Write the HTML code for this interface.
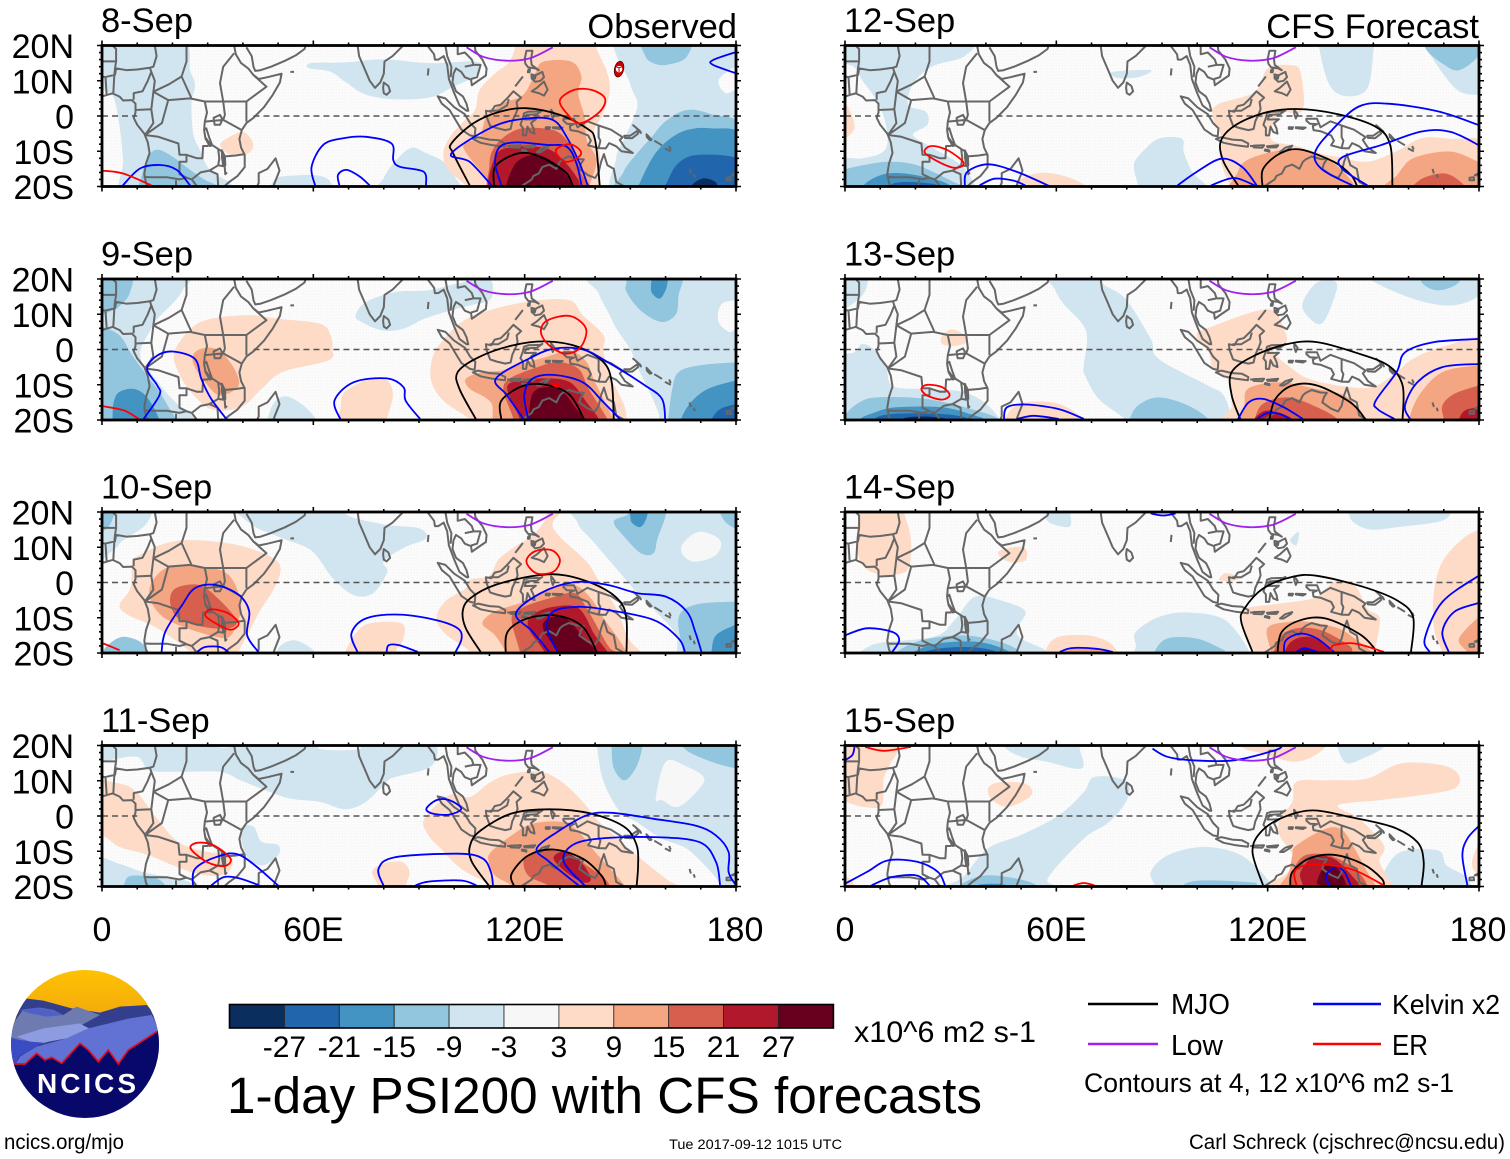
<!DOCTYPE html>
<html lang="en">
<head>
<meta charset="utf-8">
<title>1-day PSI200 with CFS forecasts</title>
<style>
html,body{margin:0;padding:0;background:#fff;width:1510px;height:1159px;overflow:hidden}
svg{display:block}
text{font-family:"Liberation Sans",sans-serif;fill:#000}
</style>
</head>
<body>
<svg id="chart" xmlns="http://www.w3.org/2000/svg" width="1510" height="1159" viewBox="0 0 1510 1159">
<defs>
<pattern id="stipple" width="3" height="3" patternUnits="userSpaceOnUse"><rect width="3" height="3" fill="#fafafa"/><rect x="1" y="1" width="1" height="1" fill="#ffffff"/><rect x="0" y="2" width="1" height="1" fill="#f6f6f6"/></pattern>
<linearGradient id="sky" x1="0" y1="0" x2="0" y2="1"><stop offset="0" stop-color="#ffc400"/><stop offset="1" stop-color="#efa012"/></linearGradient>
<clipPath id="logo-clip"><circle cx="255" cy="252" r="222"/></clipPath>
</defs>
<g id="panels"></g>
<g id="colorbar"></g>

<g>
<g transform="translate(0,960) scale(.33333)" clip-path="url(#logo-clip)">
<rect x="20" y="20" width="470" height="200" fill="url(#sky)"/>
<polygon points="75,115 130,122 215,145 300,158 360,140 440,135 480,180 480,330 30,330 30,200" fill="#333f8c"/>
<polygon points="70,148 120,143 160,150 190,165 230,140 300,165 245,195 270,205 130,250 30,240 40,190" fill="#6e7bb0"/>
<polygon points="60,150 110,143 160,152 190,165 140,170 90,160" fill="#4f60c8"/>
<polygon points="265,205 390,175 455,165 480,210 400,265 360,320 40,325 60,290 110,260 200,235" fill="#6271d4"/>
<polygon points="30,232 60,240 130,248 100,265 55,290 45,320 30,320" fill="#3a4cc4"/>
<polygon points="50,230 130,205 240,190 265,205 200,235 130,248 90,245" fill="#8d9be0"/>
<polygon points="40,312 75,312 110,280 135,300 155,292 185,310 240,250 265,270 295,305 325,270 355,312 385,270 470,215 490,205 490,490 20,490 20,312" fill="#08086a"/>
<polyline points="40,312 75,312 110,280 135,300 155,292 185,310 240,250 265,270 295,305 325,270 355,312 385,270 470,215" fill="none" stroke="#e01020" stroke-width="5"/>
</g>
<text x="37" y="1093" font-size="28" font-weight="bold" style="fill:#fff" textLength="99" lengthAdjust="spacing">NCICS</text>
</g>

<text x="854" y="1042" font-size="30" textLength="182" lengthAdjust="spacingAndGlyphs">x10^6 m2 s-1</text>
<text x="227" y="1113" font-size="51" textLength="755" lengthAdjust="spacingAndGlyphs">1-day PSI200 with CFS forecasts</text>

<g>
<line x1="1088" y1="1004" x2="1158" y2="1004" stroke="#000" stroke-width="2.4"/>
<text x="1171" y="1014" font-size="28.5" textLength="59" lengthAdjust="spacingAndGlyphs">MJO</text>
<line x1="1313" y1="1004" x2="1381" y2="1004" stroke="#0000ff" stroke-width="2.4"/>
<text x="1392" y="1014" font-size="28" textLength="108" lengthAdjust="spacingAndGlyphs">Kelvin x2</text>
<line x1="1088" y1="1044" x2="1158" y2="1044" stroke="#a020f0" stroke-width="2.4"/>
<text x="1171" y="1055" font-size="28.5" textLength="52" lengthAdjust="spacingAndGlyphs">Low</text>
<line x1="1313" y1="1044" x2="1381" y2="1044" stroke="#ff0000" stroke-width="2.4"/>
<text x="1392" y="1055" font-size="28.5" textLength="36" lengthAdjust="spacingAndGlyphs">ER</text>
<text x="1084" y="1092" font-size="26.5" textLength="370" lengthAdjust="spacingAndGlyphs">Contours at 4, 12 x10^6 m2 s-1</text>
</g>

<text x="4" y="1149" font-size="21" textLength="120" lengthAdjust="spacingAndGlyphs">ncics.org/mjo</text>
<text x="669" y="1149" font-size="14" textLength="173" lengthAdjust="spacingAndGlyphs">Tue 2017-09-12 1015 UTC</text>
<text x="1189" y="1149" font-size="21" textLength="316" lengthAdjust="spacingAndGlyphs">Carl Schreck (cjschrec@ncsu.edu)</text>
</svg>

<script>
// ---------- categories, labels ----------
const panelDates = ['8-Sep','9-Sep','10-Sep','11-Sep','12-Sep','13-Sep','14-Sep','15-Sep'];
const latTicks = [20,10,0,-10,-20];
const latLabels = ['20N','10N','0','10S','20S'];
const lonTicks = [0,60,120,180];
const lonLabels = ['0','60E','120E','180'];
const colorbarColors = ['#0a2f5f','#2166ac','#4393c3','#92c5de','#d1e5f0','#f7f7f7','#fddbc7','#f4a582','#d6604d','#b2182b','#67001f'];
const colorbarLabels = ['-27','-21','-15','-9','-3','3','9','15','21','27'];
const equatorSegments = [[0,10],[43,180]];
const cycloneTracks = [[146.8,13.3]];

// ---------- map (flat lon,lat lists) ----------
const mapOpen = [
[0,5.5,1.5,6,3,6.4,5,5.5,6,4.4,8.5,4.5,9.5,3.5,9.5,1,9,-.5,10,-2.5,12,-5,13,-7.5,13.5,-10.5,12.5,-13.5,12,-16.5,12.5,-19,14,-22],
[37.5,20,38,17.5,39.5,15,41.5,13.5,43,11.6,44.5,10.5,47,11,51,12,50.5,9.5,48.5,6,46,2.5,43,-.5,41,-2,39.7,-4,39,-6.5,39.5,-9,40.5,-11,40.5,-14.5,38.5,-17,36,-18.8,34.7,-20,35.5,-23],
[41,19.5,42.5,17,43,14,43.5,12.8,45,13,48,14,52,15.7,55,17.2,57.5,19,58,20.5],
[24,20,24,15.5,22.6,11.2,19,9,14.6,6.9],
[22.6,11.2,25.4,5],
[14.6,6.9,18.8,4.5,25,5,29.2,4.1,34.4,4.1,41,4.1],
[9.4,1.7,14,1.9,14.6,-2,12.2,-5.4],
[14.6,6.9,14,1.9],
[18.8,4.5,17,-2,12.2,-5.4],
[.8,11,3.7,11.7,4,13.5,7,13,10,13.2,13.6,13.7],
[3.2,6.4,3.5,11.5,3.7,13.5,4,15.5,0,15.5],
[4,15.5,4,19,3,20],
[1.3,6.2,1,11,0,11.2],
[13.6,13.7,14.6,14,15.5,17,15,20],
[9,4.6,9,6.5,11.5,7,13,10,14,12.5,13.6,13.7],
[14,12.5,15,10,14.6,6.9],
[37.5,17.8,34.4,14,33.5,9.3,34.4,4.1],
[41,4.1,46.7,8.3,43,11.6],
[41,4.1,41,-1.6],
[34.4,4.1,34.9,.3,34.4,-1.1,39.7,-4],
[29.2,4.1,29.8,1,29.2,-1.6,34.4,-1.1],
[29.2,-1.6,29,-4,29.3,-6,30.6,-7.8,30,-8.5,28.7,-8.5,28.5,-12,27,-12,24,-11,22,-11,21.7,-7.8,16,-5.9,12.2,-5.4],
[30.6,-7.8,34,-10,34.5,-11.5,38,-11.2,40.5,-10.8],
[34,-10,34.8,-14,35,-16.5,35.5,-16],
[33,-9.5,33.3,-12,33,-14,34.8,-14.3],
[24,-11,24,-13,22,-13,22,-16.5,24,-17.5,25.5,-18,28,-16,30.5,-15.5,33,-14],
[11.8,-17.3,14,-17.4,18.5,-17.4,22,-18,24,-17.5],
[30.5,-15.5,32.8,-16.5,33,-20,31.5,-23],
[25.5,-18,27,-20,29,-22],
[21,-18.2,21,-23],
[67,24,69,22,72.5,20.5,73,17,74.5,13.5,76,10,77.5,8,79,9.5,80,12,80.2,15.5,82.5,17,85,19.5,87,21.5,90,22,92,20.5,94.3,17.5,94.5,16,95.5,16,97,17,98,14.5,98.5,10.5,100,6.5,101.5,3,103.5,1.5,104,1.5,103.5,3.5,102.5,5.5,100.5,7,99.5,9.5,99.8,12,100.5,13.5,102,12.5,103,11,104.8,10.3,105,8.7,106.5,9.8,109,11.5,109.2,13.5,108,16,106,18.5,105.8,20,107,21.5],
[97.5,20,98,17,99.2,14,99,11],
[101,20,101,17.5,103,18,105,16,105.5,14.5,107.5,14.5,106.5,11,104.8,10.5],
[103,14,105.5,14.5],
[92.7,13.5,92.5,11.5],
[53.5,12.5,54.5,12.5],
[115,-8.5,116.5,-8.5],
[117.3,8.4,119.5,11.2],
[110,1.5,112.5,1.5,115,3,115.5,4.8],
[141,-2.7,141,-6,141.5,-7,141,-9.1],
[155,-6,156,-7],
[156.8,-7,159,-8.3],
[159.8,-9.2,161.5,-10],
[161,-8.5,161.5,-9.5],
[166.8,-15,167.2,-16.3],
[168,-16.5,168.3,-17.5],
[113.5,-22,116,-20.7,119,-20,122,-18,122.5,-17,124,-16.3,125,-14.5,127,-13.8,129,-15,130,-13,130.8,-12.3,132.5,-11.5,135,-12.2,136.8,-12.3,136,-13.5,135.5,-15,138,-16.8,140,-17.6,141,-16,141.7,-13,142.5,-10.8,143.5,-14,145.3,-15,146,-18.7,148.7,-20.2,150,-22]
];
const mapClosed = [
[44.5,-16.2,47,-15,49.3,-12,50.4,-15.5,49,-19,47,-25,44,-25,43.5,-21,44.5,-19],
[31.7,-.5,33.5,.3,34.2,-1,33.5,-2.5,32,-2.5,31.7,-1],
[29.6,-3.5,30.4,-6,31.3,-8.3,30.6,-8.5,29.4,-6.5,29,-4],
[34,-9.7,34.9,-11.5,35,-14,34.4,-14,34.1,-12],
[80,9.5,81.3,8.5,81.8,7,80.8,6,80,6.5,79.8,8],
[95.3,5.6,97.5,5,100,2.5,103,.5,104.5,-2,106,-3.5,105.8,-5.8,104.5,-5.5,102,-3.8,100.3,-1,98.7,1.7,96.5,3.5],
[105.3,-6.5,106.8,-6,110,-6.7,112.7,-6.9,114.5,-7.8,114.4,-8.7,111,-8.3,107.5,-7.6],
[116,-8.4,119,-8.3,118.5,-9,116,-8.9],
[119.8,-8.6,123,-8.3,122.5,-8.9,120,-8.9],
[119.3,-9.5,120.5,-9.8,120.5,-10.1,119.2,-9.8],
[123.5,-10.2,125,-9,127,-8.4,126.5,-9,124.5,-10.2],
[109,1.5,110.5,1.2,111.5,2.8,113.2,3.2,115,5,116.8,7,119,5.2,117.7,4,118,2,117.5,.7,116.5,-1.5,116,-3.7,114.5,-4,112,-3.4,110.2,-2.8,109.2,-.2],
[119.8,.8,121,1.2,124.5,1.3,125,1.6,123.5,.5,120.5,.3,120,-1,121,-1,123.2,-.9,121.8,-2,122.5,-3.5,122.8,-5,121.6,-4.5,120.8,-3,120.4,-5.5,119.5,-5.5,119.5,-3.4,118.8,-2.5,119.5,-.5],
[120.5,18.5,122.2,18.5,121.8,16,122,14.5,124,13,123,13.5,121,13.8,120.2,14.8,120,16.2],
[123,11.5,125,12.5,125.5,11,124.5,10,123,9.7,122,10.7],
[121,13,121.5,13.4,121.4,12.4,120.9,12.4],
[121.9,11.8,123.1,11.5,122.9,10.6,122,10.6],
[123.5,8,125.5,9.8,126.5,7.5,125.5,5.8,124,6.5,122,7],
[127.5,1.8,128.5,.5,128,-.7,127.6,.5],
[128,-3.2,130.8,-3.3,130,-3.7,128,-3.4],
[126,-3.2,127.2,-3.2,127,-3.7,126,-3.6],
[131,-.8,134,-.8,135,-3.2,137.8,-1.5,141,-2.7,144.5,-3.9,147.8,-6,147,-6.8,148.5,-9,150.7,-10.5,147.5,-10,146,-8.6,144,-7.7,143,-9.2,141,-9.1,138,-8.3,138.8,-7,138,-5.5,135,-4.3,133,-4,132.8,-2.8,134,-2.3,132,-2.2,131,-1.3],
[148.3,-5.6,150,-5.6,152,-4.2,152.2,-5,150.5,-6.3,148.5,-6.2],
[150.8,-2.6,152.8,-4.3,153,-4.8,151.5,-3.2],
[154.6,-5.2,156,-6.7,155.5,-6.8,154.7,-6],
[177.3,-17.5,178.5,-17.4,178.6,-18.2,177.3,-18.2],
[178.8,-16.8,180,-16.2,179.5,-16.8]
];

// ---------- shared Low contour ----------
const lowArc = [103.5,19.5,108.2,16.8,114.8,15.7,121.5,16.4,128,19.5];

// ---------- 8-Sep ----------
const sep8Shades = [
[4,[-3,22,22,22,25,13,26.4,8.8,25.4,3.6,25.9,-5,27.8,-9.6,30.6,-15.3,36.3,-19,38,-22,36,-24,7,-24,6,-12.5,5,-3,3.2,5.5,.4,7.4,-3,12]],
[3,[16,-9.6,20,-11.5,24,-14.5,29,-18,35,-21,33,-24,12,-24,11.5,-16,13.5,-11]],
[6,[33.5,-8.2,36.3,-5.9,40,-4.5,42.5,-6.8,42.8,-9.2,40.6,-11,36.3,-11]],
[4,[59.4,15,68.9,15.2,79.8,16.1,93.3,15,105.6,15.5,107.6,13.6,104.9,10.7,99.5,8.2,93.3,5.3,83.8,4.7,75,6,68.9,9.8,64.8,12.6,58.7,13.6]],
[4,[49,-18,56,-16.8,62,-17,65,-19,65,-24,49,-24]],
[4,[78,-24,80,-17.5,84,-12,88,-9,92,-10.5,97,-13,100,-17,102,-24]],
[6,[117.2,19.2,115.3,15,111.5,12,107.2,7.4,105.9,1.7,102.6,-1.6,98.8,-5.9,96.9,-10.6,98.3,-15.3,103.5,-20,105,-24,142,-24,141.3,-19,141.3,-10.6,139.5,-4.9,142.3,.8,144.2,7.4,143.2,13,140.4,19.2,140,24,117,24]],
[7,[125.3,15.4,133.3,15.4,136.1,11.2,135.2,6.4,137,-.2,137.6,-6.8,140.4,-12.5,138.5,-19.7,138,-24,111,-24,110.6,-19.7,103.5,-10.6,103,-7.8,107.2,-5.9,109.2,-.2,114,3.6,119.6,6,123,12.1]],
[8,[110,-14,112,-8,118,-3.8,125,-3.5,130,-4.9,134,-10,136,-16,138.5,-24,112,-24]],
[9,[111.6,-11.5,117.7,-8.7,126.2,-9.2,130.9,-12.5,134.7,-17.2,135.7,-19.7,136,-24,111.6,-24]],
[10,[116.8,-14.4,122.4,-11,128.1,-13,132.8,-18,133.7,-20,134,-24,115.8,-24]],
[4,[147,24,182,24,182,15.5,178,13,175,10,177,6.5,182,5,182,-24,147,-24,146,-12,149,-5,152,3,150,9]],
[3,[154.1,17.3,153,24,167,24,166,16.8,160.3,14.5,156.5,15]],
[3,[146.5,-24,148,-16,152,-10.5,156,-6,160,-1.5,166,1.7,173,.5,182,-3.5,182,-24]],
[2,[151,-24,152.7,-19,156.5,-11.5,160.8,-6.8,166,-4,172.6,-3.5,182,-5.9,182,-24]],
[1,[158,-24,160.3,-19,163.6,-13.4,169.8,-11,182,-13,182,-24]],
[0,[165,-24,167.4,-19.7,170.7,-17.7,174,-18.6,174.8,-20,176,-24]]
];
const sep8Mjo = [
[104.4,-19.7,99.7,-10.6,99.2,-7.8,105.4,-2.1,112.9,1.2,120.5,2.2,130,.3,137.6,-3.5,140,-6.8,141.3,-19.7],
[111.3,-19.7,111.6,-14.4,116.8,-11,121.5,-10.6,127.2,-13,132,-16.3,133.7,-20]
];
const sep8Kelvin = [
[110.6,-19.7,104.4,-13,99.2,-10.6,111.1,-3,120.5,-.7,128,-1.1,131.9,-5.9,135.6,-13.4,138,-20],
[113.4,-19.7,111.6,-13.4,113,-8.7,117.7,-7.5,126.2,-8.2,131.9,-8.7,134.7,-13.4,136.2,-20],
[5.9,-19.7,10.8,-14.9,16.5,-13.9,21.2,-15.3,25,-19.7],
[60.5,-19.7,59.5,-14.4,62.8,-8.2,68.5,-6.3,75,-5.9,82.2,-7.8,82.7,-12.5,84.6,-14.4,91.3,-15.8,92,-19.7],
[67.4,-19.7,67,-16.7,69.4,-15.3,73.2,-17.2,76,-19.7],
[180.5,18.3,173.5,15.9,173.5,14.5,180,12.1]
];
const sep8Er = [
[0,-15.5,6,-16.3,14,-19.7],
[130,4.5,134,7.4,139,7.4,142.8,5,141.3,1.2,135.6,-2.1,131.9,.8],
[129.2,-9.2,132.8,-8,135.7,-9.7,135.5,-11.5,131.8,-13,129.2,-11]
];

// ---------- 9-Sep ----------
const sep9Shades = [
[4,[-3,22,24,22,23,17,20,13,16,9,13.5,5,11,0,11.5,-4,15,-8,18,-12,22,-16,27,-20,27,-24,-3,-24]],
[3,[-3,22,8,22,8,16.3,5.7,13,2.7,11,-3,10]],
[3,[-3,6.4,0,6.4,5,4,8.6,-1.7,12.8,-7.4,16.3,-12,18.7,-16,21,-20,21,-24,-3,-24]],
[2,[3.3,-15,5,-12,9.2,-11.2,12.8,-13.6,16.3,-20,16,-24,3,-24,3,-20]],
[4,[140,22,182,22,182,15,176,13,175,8,178,5,182,4,182,-24,160,-24,158,-18,155,-11,152,-5,150,0,146,6,144,10,141,16]],
[3,[148.9,19,149,24,165,24,164.9,19.6,163.7,15.4,163,10.1,158.9,7.8,153,11,148.9,16.3]],
[2,[156,20,156,24,161,24,160.7,20,160,16.8,158.3,14.4,156,16.3]],
[3,[160.7,-20,161.9,-11.2,163.7,-6.4,169.6,-4.5,180,-3.6,182,-3.6,182,-24,160,-24]],
[2,[164.3,-20,167.2,-15,172,-11.2,180,-8.8,182,-8.8,182,-24,164,-24]],
[1,[173,-20,175.5,-16.9,180,-15.5,182,-15.5,182,-24,172,-24]],
[4,[72,9.7,75,13.5,83.2,16.3,92.7,16.8,102,19,110,20,110.4,14.4,104.5,12.5,98.6,11,91.5,8.7,85.6,5.9,79.6,5.4,73.7,7.8]],
[4,[48.9,-15,52.4,-13.3,57.2,-15.9,60.7,-20,60,-24,47,-24,47,-20]],
[6,[20.5,-.8,25.2,5.9,31,8.7,41.8,9.7,50,8.7,61.9,7.3,64.9,4,65.4,.2,64.3,-3.1,51.2,-6.4,45.3,-11.2,39.4,-16.4,31,-16.9,25.2,-12,21.7,-6.4]],
[7,[25.8,-3.6,27,-.3,32.3,.2,37,-4.5,38.8,-10.2,33.5,-13,29.3,-9.3]],
[6,[69,-12,74.9,-8.8,80.8,-8.8,82.6,-13,80.8,-20,80,-24,68,-24,67.8,-15.9]],
[6,[93.3,-5.5,95,.2,102.1,7.8,111.6,11.6,123.4,13.9,132.9,13.9,136.5,9.7,142.4,4,142.4,-.8,144.7,-8.3,148.3,-15.9,148.9,-20,149,-24,105,-24,104.5,-20,97.4,-15,93.9,-10.2]],
[7,[103.3,-8.3,108,-6.4,113.4,-6,117.5,-4.5,125.8,-2.2,132.9,-.3,137.6,-3.6,140,-9.3,144.7,-18.8,146,-24,114.6,-24,110.4,-15,104.5,-11.2]],
[8,[114,-11.7,115.7,-8.3,122.2,-5.5,129.3,-3.6,135.3,-5.5,138.2,-11.2,143.6,-20,144,-24,117,-24,116.9,-20]],
[9,[115,-10.7,119.9,-8.8,125.8,-8.2,132.9,-9.3,137.6,-15,141.2,-20,142,-24,118,-24,118.7,-20]],
[10,[122.2,-12.6,125.8,-10.7,130.5,-11.7,134.7,-16.9,137,-20,137,-24,121,-24,121.1,-20]]
];
const sep9Mjo = [
[106.3,-20,101.5,-11.2,101,-6.4,106.9,-2.2,116.3,1.1,125.8,2.3,135.3,.7,142.4,-3.6,144.7,-9.3,145.3,-20],
[113.4,-20,113.4,-14.5,119.9,-10.2,127,-10.2,132.9,-13,137,-20]
];
const sep9Kelvin = [
[119.9,-20,115,-13,111.8,-8.3,121,-2.7,128.2,.2,136.5,0,143.6,-3.6,154.2,-10.2,159,-14,159.9,-20],
[121.1,-20,119.9,-13,122.2,-8.3,128.2,-7.2,136.5,-9.3,142.4,-15,147.3,-20],
[11.6,-20,16.3,-13,15.7,-10.2,12.8,-5.5,15.7,-1.7,20.5,-.6,26.4,-2.7,28.2,-8.3,31,-14,35.3,-19.7],
[67.8,-20,66,-14.5,71.4,-9.3,80.8,-8.2,85.6,-10.7,86.2,-14.5,90.3,-19.7]
];
const sep9Er = [
[.4,-16.1,6.3,-17.3,10.4,-19.7],
[124.6,4.9,126.4,8.2,132.9,9.5,137.4,5.9,135.9,.7,131.7,-1.2,127,1.1],
[128,-10,129.5,-9.8,129.3,-10.6]
];

// ---------- 10-Sep ----------
const sep10Shades = [
[4,[-3,22,13,22,12.5,16.5,6,12,3,9,-3,6]],
[3,[-3,22,3.5,22,3,18,1,15,-3,14]],
[4,[39,22,63,22,71,18.5,81,16.3,90,15.4,92,12.5,86,10,80,6,81,3,77,-3,71.5,-3.6,65.5,1.2,59.5,9,51,12.6,42.5,16.4]],
[4,[137,22,182,22,182,-24,165,-24,163,-15,158,-9,152,-3,146,4,140,11,135,17]],
[5,[164.9,11,169.6,14.4,175.5,12,174.3,7.8,168.4,5.9,164.9,7.8]],
[3,[145.3,17.3,149.5,19.6,149,24,160,24,160,19,157.7,12.5,156.6,8.3,153,8.3,148.3,13]],
[2,[150,18.7,150,24,155,24,154.8,19,153,15.8,150.6,16.8]],
[3,[174,24,182,24,182,15.5,177.9,16.4,175.5,19.6]],
[3,[164.9,-19.7,163.7,-10,168.4,-6.3,180,-5.4,182,-5.4,182,-24,165,-24]],
[2,[173,-19.7,174.3,-15,180,-12,182,-12,182,-24,172,-24]],
[3,[2.7,-16.9,6.3,-15.4,11,-16.9,12.8,-20,12,-24,0,-24,0,-20]],
[4,[50,-18.7,54.8,-16.4,60.7,-20,60,-24,50,-24]],
[6,[8.6,5.9,9.8,7.3,18,11.1,26.4,12,38.2,10.7,47.7,7.4,50.7,4.1,48.9,-1.6,44.7,-8.3,41.8,-13.9,38.8,-19.7,38,-24,25,-24,25.2,-20,15.7,-13,7.5,-9.3,5,-6.4,8,-1.7]],
[7,[13.4,-2.6,18,4,27.6,4.5,35.9,2.2,39.4,-6.4,37,-14.5,32.3,-15.4,18,-10.2]],
[8,[19.3,-5.4,21,-1.6,27.6,-.7,32.9,-4.5,38.2,-10.7,35.9,-13,28.8,-12.6,21.7,-10.2]],
[6,[69,-20,72,-14.5,76,-11.6,85,-11.6,85.6,-15.9,83.2,-20,83,-24,69,-24]],
[6,[95,-10.1,97.4,-5.4,103.3,-1.6,104.5,.8,110,2,112.8,6.8,118.7,11.1,122,13,126,18,127,22,132,22,128,17,130,13,137.6,5.9,141.2,.3,146,-7.3,149.5,-15.9,153,-20,153,-24,105,-24,104.5,-19.7,97.4,-14.5]],
[7,[108,-11.6,111.6,-8.2,119.9,-5.4,127,-1.6,134.1,-.7,138.8,-4.5,142.4,-10.1,148.3,-18.7,149,-24,114.6,-24,114.6,-20,111.6,-15]],
[8,[116.3,-10.1,119.9,-6.9,127,-4.5,134.1,-3,137.6,-7.3,143.6,-17.8,146,-20,146,-24,118.7,-24,118.7,-20]],
[9,[121.1,-13,122.2,-9.2,128.2,-6.9,135.3,-7.3,140,-15,143.6,-20,144,-24,126,-24,125.8,-20]],
[10,[125.2,-13,127,-10.1,131.7,-10.1,137,-15.9,140.6,-20,141,-24,129,-24,129.3,-20]]
];
const sep10Mjo = [
[107.5,-19.7,103.3,-13,102.4,-8.2,104.5,-4.5,111.6,-.7,123.4,2,131.7,2,141.2,-1.1,147.1,-5.4,148.9,-10.6,148.9,-19.7],
[114.6,-19.7,115.2,-13.9,121,-10.1,129.3,-9.4,136.5,-12.6,140.6,-20]
];
const sep10Kelvin = [
[127,-19.7,122.2,-13.9,117.5,-8.8,124.6,-3,134.1,.1,143.6,-.7,151.8,-3,160.1,-4,166,-8.2,168.4,-13.9,170.2,-19.7],
[129.3,-19.7,126.4,-13,128.2,-8.2,135.3,-6.9,143.6,-7.8,156.6,-10.6,163.7,-15.9,165.5,-19.7],
[16.9,-19.7,18,-13.9,22.8,-6.3,26.4,-1.6,32.3,-.7,38.8,-3.5,41.8,-8.2,41.2,-14.9,44.4,-19.7],
[27,-19.7,29.3,-18.3,33.5,-18.3,35.9,-19.7],
[72.5,-19.7,70.8,-14.5,74.9,-10.2,84.4,-9.1,95,-10.7,101,-13,102.1,-15.9,100.4,-19.7],
[80.8,-19.7,81.4,-17.8,84.4,-17.8,89.7,-19.7]
];
const sep10Er = [
[.4,-17.3,5,-19.2],
[29.3,-9.3,31.1,-7.6,35.9,-8.8,38.8,-11.6,36.5,-13.4,32.3,-11.6],
[120.5,5.9,122.8,8.8,127.6,9.2,130,6.4,128.2,3.1,123.4,2.6]
];

// ---------- 11-Sep ----------
const sep11Shades = [
[4,[-3,22,28,22,33,19.5,38,20,42,22,60,22,62,19,73,19,74,22,93,22,93.8,14.4,83,11,80.8,9.7,74.9,4,69,1.9,61.9,4,53.6,4.9,47.7,6.8,39.4,10.1,33.5,12.5,21.7,12.5,13.4,13,9.8,16.8,0,15.4,-3,15]],
[4,[39.4,-3.6,43,-3,45.3,-7.3,50,-8.2,50,-11.2,45.3,-14,41,-11.2]],
[4,[-3,-12,5,-13.6,12,-16,25,-18.8,28,-24,-3,-24]],
[3,[6.9,-17.8,11,-16.9,15.7,-17.8,18,-20,18,-24,7,-24]],
[4,[140.6,19.1,142.4,9.7,147.1,1.1,151.8,-1.7,158.9,-6.4,166,-9.3,173,-16,175.5,-19.7,176,-24,182,-24,182,24,140,24]],
[5,[157.2,4.9,160.1,15.4,166,14,170.8,11.1,169.6,7.8,163.7,2.6,159,4.5]],
[3,[144.7,19.1,144.7,24,153.3,24,153.3,19.1,151.5,13.5,148.3,10.1,145.3,13.5]],
[3,[165.4,19.1,173,15.4,180,13.5,182,13.5,182,24,165,24]],
[6,[-3,9,5,9.2,9.8,6.8,15.7,-.8,21.7,-7.4,29.9,-10.2,35.9,-10.7,37,-14,33.5,-16.9,25.2,-15.9,13.4,-11.2,5,-8.8,1,-6,-3,-5]],
[6,[76.7,-15.9,79.6,-13.6,85,-13,87.3,-15.9,86.2,-20,86,-24,79,-24,78.5,-20]],
[6,[91.5,-.8,98.6,5.9,104.5,5.4,110.4,9.7,116.3,12,124.6,12.5,130.5,9.7,136.5,4,141.2,-1.7,150.7,-10.2,160.1,-17.8,163.7,-20,164,-24,110,-24,110.4,-20,102,-15,96.2,-9.3,92.7,-5.5]],
[7,[109.8,-13,110.4,-10.2,116.3,-5.5,122.2,-2.2,130.5,-1.7,135.3,-4.5,140,-10.2,148.3,-19.7,149,-24,116,-24,116.3,-20,111.6,-16.9]],
[8,[119.9,-12,124.6,-9.8,131.7,-10.2,137.6,-14,143.6,-18.8,144,-24,127,-24,127,-20,121,-16.9]],
[9,[128.2,-12,131.1,-10.2,135.9,-13,138.8,-17.8,136.5,-18.8,131.7,-15.9]]
];
const sep11Mjo = [
[109.8,-19.7,105,-13,104.5,-8.3,107.5,-4.1,116.3,.7,127,1.9,138.8,.7,148.3,-3.1,151.8,-8.3,152.2,-14,151.8,-19.7],
[116.9,-19.7,116.3,-16.4,121,-11.2,128.2,-9.5,136.5,-12.1,141.8,-16.9,143,-19.7]
];
const sep11Kelvin = [
[135.3,-19.7,127,-13,123.4,-9.3,129.3,-4.5,137.6,.2,144.7,.9,156.6,-.8,168.4,-2.7,174.3,-5.5,177.9,-10.2,177.9,-15.9,180,-19.7],
[137,-19.7,131.1,-13,133.5,-8.3,141.2,-6.4,156.6,-6,169.6,-7.4,174.3,-13,175.5,-19.7],
[92.1,2.1,95,4.5,98.6,4.5,102,2.1,98.6,.4,93.8,.7],
[79.9,-19.7,78.5,-15,83.2,-11.7,101,-10.7,108,-12,110.4,-15.9,111,-19.7],
[89,-19.7,92.7,-18.6,102,-18.3,106.3,-19.7],
[25.8,-19.7,26.4,-15,32.3,-11.7,39.4,-11.2,50,-19.7],
[31,-19.7,34.7,-17.3,39.4,-17.8,44.7,-19.7]
];
const sep11Er = [
[25.2,-9.3,27,-7.6,31.7,-8.3,36.5,-12.1,34.7,-14.2,29.9,-13.1]
];

// ---------- 12-Sep ----------
const sep12Shades = [
[4,[-3,22,34,22,34,17,24.6,14,19.3,9,18,3.2,23,1.2,23.4,-2.5,19.3,-5.3,24,-8.5,33,-14,37,-20,38,-24,-3,-24,-3,-12.8,5,-12,11,-10,12,-5,9.8,3,5,10,2.5,14,-3,16]],
[3,[-3,-15,0,-15,5,-14,12.2,-13,20.5,-14,31,-18.8,33,-20,33,-24,-3,-24]],
[2,[5,-20,9.8,-16.9,15.7,-16.2,25,-17.8,30,-20,30,-24,5,-24]],
[1,[12.8,-20,15.7,-18.8,22.8,-19,26.4,-20,26,-24,13,-24]],
[6,[-3,3.5,0,3.5,1.5,1.3,2.7,-3.4,0,-6.3,-3,-6]],
[4,[76.1,12.5,86.8,13,83.2,11,77.3,10.8]],
[4,[82,-14,84.4,-10.2,89.1,-6.4,95.6,-6.4,96.2,-10.2,98.6,-15.9,102.7,-20,102,-24,83,-24,83.2,-20]],
[6,[48.9,-18.8,54.8,-16.2,61.9,-16.9,68.4,-20,68,-24,48,-24]],
[4,[134.7,19.1,137.6,8.7,142.4,5.6,148.3,7.8,150,18.2,150,24,135,24]],
[4,[164.9,19.6,173.3,7.8,180,5.9,182,5.9,182,24,165,24]],
[3,[164.9,19.1,169.6,14.9,174.3,13,180,17.3,182,24,165,24]],
[6,[104.5,-.6,105.7,3.2,116.3,6.8,120,13.5,126.4,14.4,129.3,12.5,129.9,1.6,123.4,.9,121,-4.4,121.7,-7.2,128.2,-8.5,135.3,-10.7,140,-11.6,148.3,-13,156.6,-10,163.7,-6.3,172,-6.5,182,-8,182,-24,112,-24,109,-19,106.5,-12,106.9,-6.3]],
[7,[111.6,-15.7,115.2,-12,124.6,-9.6,131.7,-10,138.8,-13.4,144.7,-19.7,145,-24,111,-24]],
[7,[153,-20,156.6,-16.9,161.3,-12,171.9,-10.1,180,-13,182,-13,182,-24,153,-24]],
[8,[161.3,-20,164.9,-17.3,170.8,-16.4,176,-20,176,-24,161,-24]]
];
const sep12Mjo = [
[111.6,-19.7,107.5,-13,106.6,-7.4,110.4,-2.9,118.7,.8,128.2,2,140,.5,150.6,-3,154.8,-8.2,155.4,-19.7],
[118.5,-19.7,118.7,-15,123.4,-10.7,129.3,-9.5,138.8,-13,143.6,-16.7,145.3,-19.7]
];
const sep12Kelvin = [
[144,-19.7,135.3,-15,133.5,-10.2,138.8,-3.4,145.9,2.7,154.2,3.5,168.4,1.3,180,-2.6],
[148.3,-19.7,141.2,-15,141.2,-11.7,152,-8.3,163.7,-4.4,171.9,-4.5,180,-8.3],
[94.4,-19.7,99.8,-15.9,106.9,-12.1,112.8,-14.5,116.9,-19.7],
[103.9,-19.7,110.4,-17.6,116.3,-19.7],
[34,-19.7,34.7,-15.9,40.6,-13.7,48.9,-15.9,58.3,-20],
[38.2,-19.7,42.4,-17.8,47.7,-18.3,51.2,-19.7]
];
const sep12Er = [
[22.6,-10.2,24.6,-8.5,29.3,-9.8,33.7,-13.3,31.1,-14.7,25.8,-12.6]
];

// ---------- 13-Sep ----------
const sep13Shades = [
[4,[-3,22,5.7,22,5.7,16.5,1.5,12.5,-3,11]],
[4,[-3,-4,2.7,-.7,5,1.6,8.6,-.3,11.6,-4.6,13.4,-10.3,21.7,-11.2,33.5,-12,40.6,-15.9,45.3,-22,45,-24,-3,-24]],
[3,[0,-18.8,5,-14.5,11,-13.5,22.8,-14,35.9,-16.9,44,-20,44,-24,0,-24]],
[2,[4,-20,8.6,-17.8,14.6,-16.4,27.6,-16.4,37,-18.8,39.4,-20,39,-24,4,-24]],
[1,[8,-20,13.4,-18.3,27.6,-18.3,35.9,-20,36,-24,8,-24]],
[0,[15.7,-20,21.7,-19,29.4,-20,29,-24,16,-24]],
[4,[58,22,78,22,73,19,79.6,14.4,86.8,3,89,-2.6,103,-10.2,107.5,-13,110,-20,111,-24,80,-24,79.6,-20,72,-14,68,-7,67.8,-4.5,68.4,5.4,62,13,59.5,17.2]],
[4,[130,13.5,134.1,19.1,139.4,19.1,138.8,14.4,135.3,7.3,131.1,9.7]],
[3,[80.8,-20,83.2,-15.9,89.1,-13.6,97.4,-15.9,103.3,-20,103,-24,81,-24]],
[4,[149.5,19.6,161.3,14.4,172,12.5,180,15.4,182,22,150,22]],
[3,[163.7,19.1,168.4,16.8,174.3,19.1,174,24,164,24]],
[6,[27.6,4,30.5,5.7,34,4,34.7,2.1,31.1,1,27.6,1.6]],
[6,[46.5,-17.8,51.3,-15,60.7,-15.4,67.2,-19.7,67,-24,46,-24]],
[6,[103.9,6.4,119.9,11.4,124.6,5.9,125.2,1.6,121.5,-.5,127,-5.5,131.7,-8.3,140,-10.2,149.5,-10.7,156.6,-6.4,161.3,-2.6,170.8,1.1,182,1.6,182,-24,111,-24,109.8,-15.9,109.2,-9.3,104.5,-5.5,103.3,-.8,99.8,4]],
[7,[113.4,-15.9,114.6,-11,123.4,-9.3,132.9,-11,142.4,-13.4,147.1,-20,147,-24,113,-24]],
[7,[160.1,-20,163,-13,169.6,-6.4,180,-4.5,182,-4.5,182,-24,160,-24]],
[8,[116.3,-20,118.7,-15.4,125.8,-13.6,134.1,-16.4,140,-20,140,-24,116,-24]],
[8,[170,-20,169.6,-15.9,173,-12.6,180,-10.2,182,-10.2,182,-24,170,-24]],
[9,[174.3,-20,176,-17.3,180,-16.4,182,-16.4,182,-24,174,-24]],
[9,[116,-20,120,-17.3,127,-19.7,127,-24,116,-24]]
];
const sep13Mjo = [
[112.2,-19.7,109.8,-13,109.8,-6.4,116.3,-1.7,125.8,1.6,134,2.1,144.7,-.8,154.2,-4.5,158.3,-10.2,158.3,-19.7],
[120.5,-19.7,122.2,-14,127,-10.2,134,-10.2,143.5,-15,147.7,-19.7]
];
const sep13Kelvin = [
[156,-19.7,151.2,-16.9,150.7,-14.5,156.6,-6.4,159,-.8,167.2,2.1,180,3],
[160.4,-19.7,159,-15.9,162.5,-9.3,169.6,-5,180,-4.1],
[111.6,-19.7,114.6,-15,118.7,-14,124.6,-16.4,130,-19.7],
[117,-19.7,120,-18,123.4,-18.3,126.4,-19.7],
[45.1,-19.7,46,-16.4,51.3,-15.6,60.7,-16.9,67.8,-19.7],
[48.9,-19.7,53.6,-18.8,60.7,-19.7]
];
const sep13Er = [
[21.7,-11.2,23.4,-10,27.6,-10.7,29.7,-12.9,27.6,-14.2,23.4,-13.1]
];

// ---------- 14-Sep ----------
const sep14Shades = [
[6,[3.9,19.6,3.9,24,16.9,24,16.9,19.6,18.7,12.5,18,4,13.4,2.1,8.6,2.6,5,4.9,3.3,10.6]],
[4,[57,19.1,58,24,64,24,64,19.6,63.7,15.8,58.4,16.8]],
[6,[43.5,8.7,50.6,10.1,51.3,6.3,46.5,5.9]],
[4,[143,19.6,143,24,172,24,172,19.6,168.4,17.2,157.7,15.8,149.5,15,144.7,16.8]],
[4,[126.4,12,128.8,14.4,128.2,10.6]],
[4,[7.5,-17.8,25.2,-15.4,31.1,-10.7,37,-4,45.3,-5.4,51.2,-8.2,48.9,-13,50,-15.9,58.3,-20,58,-24,7,-24]],
[3,[14.5,-20,21.7,-16.4,33.5,-15,44.2,-16.9,50,-20,50,-24,14,-24]],
[2,[19.3,-20,26.4,-17.3,38.2,-16.9,47.1,-20,47,-24,19,-24]],
[1,[22.8,-19.7,33.5,-18.3,43,-19.7,43,-24,23,-24]],
[4,[82.6,-14,89.1,-9.8,97.4,-8.5,108,-10.7,115,-20,115,-24,84,-24,82.6,-17.8]],
[3,[87.9,-19.7,91.5,-15.9,99.8,-15.9,106.9,-18.8,108,-20,108,-24,88,-24]],
[6,[57.2,-18.8,60.7,-15.4,69,-15,74.9,-16.9,77.3,-20,77,-24,57,-24]],
[7,[61.9,-20,64.3,-18.8,71.4,-18.8,74.9,-20,75,-24,62,-24]],
[6,[112.8,-10.2,113.4,-7.4,123.4,-6,132.9,-4.5,136.5,-1.7,140,.5,145,-1.2,148.3,-7.4,151.8,-10.2,150.7,-18.8,151.8,-20,152,-24,116,-24,116.3,-20,113.4,-15]],
[6,[106.3,.7,108,2.6,111.6,1.7,110.4,.5]],
[7,[119.9,-13,125.8,-11.2,131.7,-11.2,140,-13,144.7,-15.9,149.5,-20,149,-24,121,-24,121,-20]],
[8,[123.4,-15.9,128.2,-13,135.3,-13.6,143,-17.8,144,-20,144,-24,123,-24]],
[9,[125.2,-18.8,128.2,-15.9,132.9,-15.7,138.8,-19.7,139,-24,125,-24]],
[10,[128.2,-20,130.5,-18.6,134,-20,134,-24,128,-24]],
[6,[167.2,-2.6,169.6,5.9,175.5,12.5,180,14.9,182,14.9,182,-24,170,-24,169.6,-20,167.2,-13]],
[7,[174.3,-16,180,-9.8,182,-9.8,182,-24,176.7,-24,176.7,-20]]
];
const sep14Mjo = [
[115.7,-19.7,112.5,-11.2,113.4,-7.4,118.7,-1.7,127,1.6,134,1.9,147,-1.2,156.6,-5,161.3,-9.8,160.7,-19.7],
[122.8,-19.7,124,-14,129.3,-10.7,136.5,-10.2,145.9,-14.5,150,-18.3,150.5,-20]
];
const sep14Kelvin = [
[124.6,-19.7,125.2,-16.4,129.3,-14.5,134,-15.9,138.8,-19.7],
[128.2,-19.7,130.5,-18.6,134,-19.7],
[0,-15,6.2,-13,13.4,-14,15.4,-16.4,13.4,-19.7],
[61,-19.7,64.3,-18.6,71.4,-18.8,76,-19.7],
[86.8,19.6,90.3,19,93.9,19.6],
[166,-19.7,164.6,-15.9,169.6,-5.5,180,2],
[171.4,-19.7,169.6,-14,173,-8.3,180,-5.8]
];
const sep14Er = [
[138,-19.5,138.8,-17.8,144.7,-17.3,153,-19.7]
];

// ---------- 15-Sep ----------
const sep15Shades = [
[6,[-3,22,15,22,12.5,14,11,10.6,10.4,3,5,2.6,0,4,-3,4]],
[6,[40.6,7.8,43.5,9.5,51.2,9.2,52.9,5.9,46.5,2.6,41.8,4.5]],
[4,[45.3,19.6,45,24,67,24,66.6,19.6,67.2,13.5,57.2,15.4,50,16.8]],
[4,[140,19.1,140,24,153,24,153,19.6,147,16.3,142.4,15]],
[4,[70.8,11.1,79.6,10.1,80.2,4.9,75,-1.7,67.8,-6.4,57.8,-17.3,59.5,-20,59,-24,29,-24,28.8,-20,33.5,-17.3,40.6,-9.2,50,-5.4,60.7,.2,67.8,6.8]],
[3,[32.3,-20,39.4,-16.9,48.9,-17.8,54.8,-20,54,-24,32,-24]],
[2,[37,-20,41.8,-19.2,46.5,-20,46,-24,37,-24]],
[4,[86.8,-15.9,91.5,-11.2,101,-8.8,110.4,-10.2,116.3,-14,121,-19.7,121,-24,88,-24,88,-20]],
[3,[95.6,-20,101,-18.3,115.2,-18.8,117,-20,117,-24,96,-24]],
[4,[157.8,-10.2,168.4,-9.8,170.8,-14,176.7,-17.8,177,-24,152,-24,151.8,-20,153,-15.9]],
[6,[127,4,128.2,9.7,137.6,10.1,148.3,10.6,157.8,14.9,169.6,14.4,174.3,11.6,173,7.8,163.5,5.9,151.8,4.5,140,3,146,-.8,153,-8.3,151.8,-13,155.4,-20,155,-24,120,-24,120,-20,125.8,-15.9,127,-11.2,123.4,-5.5,123.4,-.8]],
[6,[112.7,19.6,112,24,136,24,135.9,19.1,128.2,15.4,118.7,17.7]],
[7,[127,-11.2,128.2,-8.3,136.5,-3.6,141.2,-4,144.7,-9.3,148.3,-15.9,150.7,-20,151,-24,123,-24,123.4,-20,126,-16]],
[8,[130.5,-11.2,137.6,-11.2,144.7,-15,148.3,-19.7,148,-24,126,-24,126.4,-20,127,-16]],
[9,[129.3,-16,132.9,-11.7,138.8,-12.1,144.7,-17.8,146,-20,146,-24,130,-24,130,-20]],
[10,[134,-18.8,136.4,-14,140,-15,142.4,-20,142,-24,135,-24,135.3,-20]],
[6,[178,-13,180,-7.9,182,-7.9,182,-17,179,-16]],
[6,[-3,-17,0,-17,2.7,-19.7,3,-24,-3,-24]]
];
const sep15Mjo = [
[118.7,-19.7,115.7,-10.2,118.1,-4.5,124.6,-.3,132.9,1.6,143.5,-.3,155.4,-3.1,162.5,-7.4,164.3,-13,163.7,-19.7],
[126.4,-19.7,127,-15.9,131.7,-12.1,138.8,-11,147,-13.6,152.4,-17.8,153,-20]
];
const sep15Kelvin = [
[137.6,-19.7,136.5,-16.9,139.4,-14.5,141.8,-15.9,143.6,-19.7],
[87.3,19.1,91.5,16.8,98.6,15.8,110.4,15.8,122.2,18.7,124,20],
[0,15.8,2.1,17.3,2.7,19.6],
[0,-19.2,6.2,-15.9,12.2,-12.6,20.5,-13,26.4,-15.9,28.4,-19.7],
[7.5,-19.7,13.4,-17.3,20.5,-16.9,24,-19.7],
[176.7,-19.7,175.3,-11.2,176.7,-6.4,180,-2.8]
];
const sep15Er = [
[128.2,-19.7,127.6,-15.9,130.5,-14,136.5,-13.8,144.7,-15.4,153,-19.7],
[5.7,19.6,11,18.5,18.7,19.6],
[64.9,-19.7,67.8,-19,70.8,-19.7]
];

// ---------- panel series ----------
const panelShades = [sep8Shades,sep9Shades,sep10Shades,sep11Shades,sep12Shades,sep13Shades,sep14Shades,sep15Shades];
const panelMjo = [sep8Mjo,sep9Mjo,sep10Mjo,sep11Mjo,sep12Mjo,sep13Mjo,sep14Mjo,sep15Mjo];
const panelKelvin = [sep8Kelvin,sep9Kelvin,sep10Kelvin,sep11Kelvin,sep12Kelvin,sep13Kelvin,sep14Kelvin,sep15Kelvin];
const panelEr = [sep8Er,sep9Er,sep10Er,sep11Er,sep12Er,sep13Er,sep14Er,sep15Er];

// ---------- layout and axis functions ----------
const SVGNS = 'http://www.w3.org/2000/svg';
const columnLeft = [102,845];
const rowTop = [45.5,279,512,745.5];
const plotW = 634, plotH = 141;
const inkGray = '#666666';
const contourColors = {mjo:'#000000',kelvin:'#0000ff',er:'#ff0000',low:'#a020f0'};

function xScale(lon, left){ return left + lon/180*plotW; }
function yScale(lat, top){ return top + (20-lat)/40*plotH; }

function make(tag, attrs, parent){
  const el = document.createElementNS(SVGNS, tag);
  for (const k in attrs) el.setAttribute(k, attrs[k]);
  parent.appendChild(el);
  return el;
}
function project(flat, left, top){
  const out = [];
  for (let i=0;i<flat.length;i+=2) out.push([xScale(flat[i],left), yScale(flat[i+1],top)]);
  return out;
}
function straightPath(pts, closed){
  return 'M'+pts.map(p=>p[0].toFixed(1)+' '+p[1].toFixed(1)).join('L')+(closed?'Z':'');
}
function splinePath(pts, closed){
  const n = pts.length;
  let d = 'M'+pts[0][0].toFixed(1)+' '+pts[0][1].toFixed(1);
  const segs = closed ? n : n-1;
  for (let i=0;i<segs;i++){
    const p0 = pts[closed ? (i-1+n)%n : Math.max(i-1,0)];
    const p1 = pts[i];
    const p2 = pts[(i+1)%n];
    const p3 = pts[closed ? (i+2)%n : Math.min(i+2,n-1)];
    const c1x = p1[0]+(p2[0]-p0[0])/6, c1y = p1[1]+(p2[1]-p0[1])/6;
    const c2x = p2[0]-(p3[0]-p1[0])/6, c2y = p2[1]-(p3[1]-p1[1])/6;
    d += 'C'+c1x.toFixed(1)+' '+c1y.toFixed(1)+' '+c2x.toFixed(1)+' '+c2y.toFixed(1)+' '+p2[0].toFixed(1)+' '+p2[1].toFixed(1);
  }
  return closed ? d+'Z' : d;
}
function onEdge(lon, lat){ return lat<=-19 || lat>=19 || lon<=0.5 || lon>=179.5; }
function drawContour(flat, kind, left, top, parent){
  const first = onEdge(flat[0],flat[1]);
  const last = onEdge(flat[flat.length-2],flat[flat.length-1]);
  const closed = !(first && last);
  const el = make('path',{d:splinePath(project(flat,left,top),closed),fill:'none',stroke:contourColors[kind],'stroke-width':1.8,'stroke-linejoin':'round'},parent);
  
  
}
function addText(str, x, y, size, anchor, parent, name){
  const t = make('text',{x:x,y:y,'font-size':size,'text-anchor':anchor},parent);
  t.textContent = str;
  
  
  return t;
}

// ---------- draw panels ----------
const panelsRoot = document.getElementById('panels');
panelDates.forEach(function(date, idx){
  const col = idx<4 ? 0 : 1;
  const row = idx%4;
  const left = columnLeft[col];
  const top = rowTop[row];
  const g = make('g',{},panelsRoot);
  
  

  const clipId = 'clip-'+idx;
  const defs = make('clipPath',{id:clipId},g);
  make('rect',{x:left,y:top,width:plotW,height:plotH},defs);

  const bg = make('rect',{x:left,y:top,width:plotW,height:plotH,fill:'url(#stipple)'},g);
  
  

  const inner = make('g',{'clip-path':'url(#'+clipId+')'},g);

  const shadeGroup = make('g',{},inner);
  
  
  panelShades[idx].forEach(function(s){
    const el = make('path',{d:splinePath(project(s[1],left,top),true),fill:colorbarColors[s[0]]},shadeGroup);
    
    
  });

  const mapGroup = make('g',{fill:'none',stroke:inkGray,'stroke-width':2,'stroke-linejoin':'round'},inner);
  
  
  let mapD = '';
  mapOpen.forEach(function(line){ mapD += straightPath(project(line,left,top),false); });
  mapClosed.forEach(function(line){ mapD += straightPath(project(line,left,top),true); });
  make('path',{d:mapD},mapGroup);

  equatorSegments.forEach(function(seg){
    const eq = make('line',{x1:xScale(seg[0],left),x2:xScale(seg[1],left),y1:yScale(0,top),y2:yScale(0,top),stroke:'#555555','stroke-width':1.5,'stroke-dasharray':'6 4'},inner);
    
    
  });

  panelMjo[idx].forEach(function(c){ drawContour(c,'mjo',left,top,inner); });
  panelKelvin[idx].forEach(function(c){ drawContour(c,'kelvin',left,top,inner); });
  panelEr[idx].forEach(function(c){ drawContour(c,'er',left,top,inner); });
  drawContour(lowArc,'low',left,top,inner);

  // axis frame and ticks
  const tickD = [];
  for (let lon=0;lon<=180;lon+=10){
    const len = lon%60===0 ? 5 : 3;
    const x = xScale(lon,left);
    tickD.push('M'+x+' '+top+'v'+(-len));
    tickD.push('M'+x+' '+(top+plotH)+'v'+len);
  }
  for (let lat=-20;lat<=20;lat+=2){
    const len = lat%10===0 ? 5 : 3;
    const y = yScale(lat,top);
    tickD.push('M'+left+' '+y+'h'+(-len));
    tickD.push('M'+(left+plotW)+' '+y+'h'+len);
  }
  const ticks = make('path',{d:tickD.join(''),fill:'none',stroke:'#000','stroke-width':1.6},g);
  
  
  const frame = make('rect',{x:left,y:top,width:plotW,height:plotH,fill:'none',stroke:'#000','stroke-width':2.8},g);
  
  

  addText(date, left-1, top-13.5, 34.5, 'start', g, 'date-label');

  if (col===0){
    latTicks.forEach(function(lat,i){
      addText(latLabels[i], 74, yScale(lat,top)+12.5, 34, 'end', g, 'y-tick-label');
    });
  }
  if (row===3){
    lonTicks.forEach(function(lon,i){
      addText(lonLabels[i], xScale(lon,left)-(lon===180?1:0), 941, 34, 'middle', g, 'x-tick-label');
    });
  }
  if (idx===0) addText('Observed', left+plotW+1, top-7.5, 34.5, 'end', g, 'observed-label');
  if (idx===4) addText('CFS Forecast', left+plotW, top-7.5, 34.5, 'end', g, 'forecast-label');

  if (idx===0){
    cycloneTracks.forEach(function(tc){
      const cg = make('g',{},g);
      
      
      const cx = xScale(tc[0],left), cy = yScale(tc[1],top);
      make('ellipse',{cx:cx,cy:cy,rx:4.6,ry:8,fill:'#d40000',stroke:'#300','stroke-width':0.7,transform:'rotate(12 '+cx+' '+cy+')'},cg);
      make('circle',{cx:cx,cy:cy,r:3.2,fill:'#ffffff'},cg);
      const tl = make('text',{x:cx,y:cy+2.8,'font-size':7.5,'font-weight':'bold','text-anchor':'middle'},cg);
      tl.textContent = 'T';
      tl.style.fill = '#d40000';
    });
  }
});

// ---------- colorbar ----------
const barRoot = document.getElementById('colorbar');
const barX = 229.5, barY = 1004.5, boxW = 54.9, boxH = 23.5;
colorbarColors.forEach(function(c,i){
  const r = make('rect',{x:barX+i*boxW,y:barY,width:boxW,height:boxH,fill:c,stroke:'#222','stroke-width':0.8},barRoot);
  
  
});
const barFrame = make('rect',{x:barX,y:barY,width:boxW*colorbarColors.length,height:boxH,fill:'none',stroke:'#000','stroke-width':1.6},barRoot);


colorbarLabels.forEach(function(label,i){
  addText(label, barX+(i+1)*boxW, 1057, 30, 'middle', barRoot, 'colorbar-tick-label');
});
</script>
</body>
</html>
